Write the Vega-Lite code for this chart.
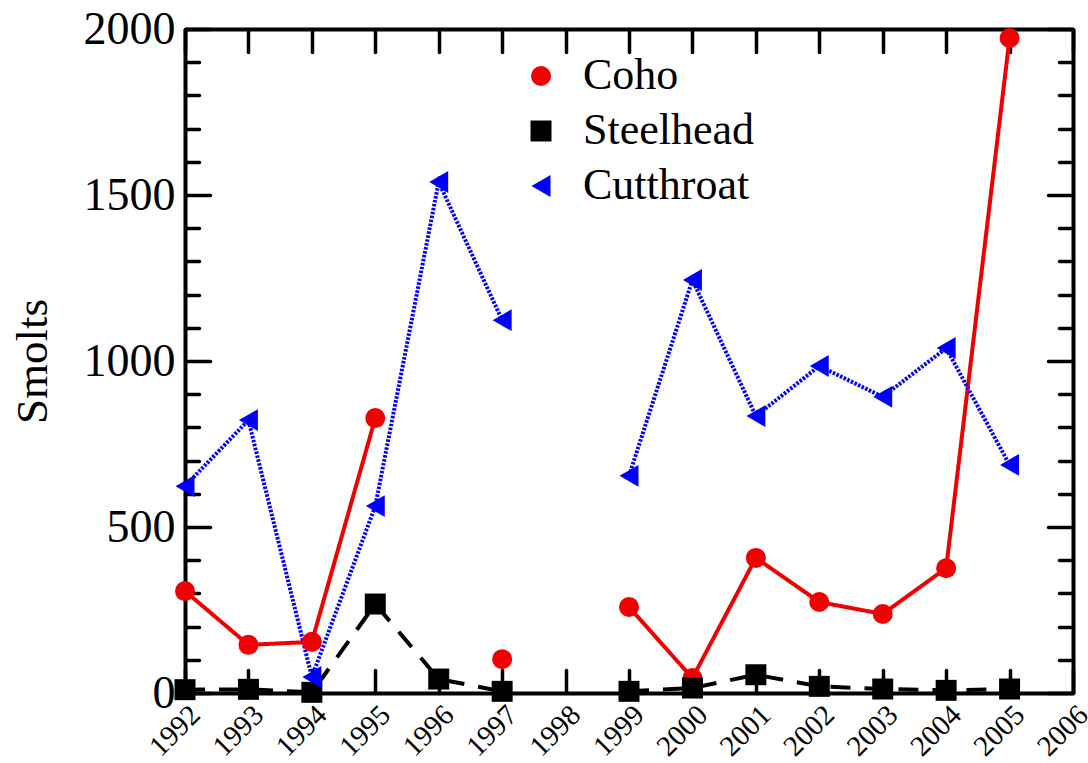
{
  "$schema": "https://vega.github.io/schema/vega-lite/v6.json",
  "width": 888,
  "height": 664,
  "autosize": {"type": "none"},
  "padding": {"left": 185, "top": 29, "right": 15, "bottom": 70},
  "background": "white",
  "config": {
    "font": "Liberation Serif",
    "view": {"stroke": null},
    "axis": {
      "domainColor": "black",
      "domainWidth": 4,
      "tickColor": "black",
      "tickWidth": 3.5,
      "tickCap": "round",
      "labelColor": "black",
      "labelFont": "Liberation Serif",
      "titleFont": "Liberation Serif",
      "titleColor": "black",
      "titleFontWeight": "normal",
      "grid": false
    },
    "legend": {
      "orient": "none",
      "legendX": 334,
      "legendY": 25,
      "labelFontSize": 44,
      "labelFont": "Liberation Serif",
      "labelColor": "black",
      "labelLimit": 0,
      "labelOffset": 20,
      "rowPadding": 11,
      "symbolStrokeWidth": 0
    }
  },
  "data": {
    "values": [
      {"year": 1992, "species": "Coho", "smolts": 307},
      {"year": 1993, "species": "Coho", "smolts": 145},
      {"year": 1994, "species": "Coho", "smolts": 154},
      {"year": 1995, "species": "Coho", "smolts": 828},
      {"year": 1996, "species": "Coho", "smolts": null},
      {"year": 1997, "species": "Coho", "smolts": 102},
      {"year": 1998, "species": "Coho", "smolts": null},
      {"year": 1999, "species": "Coho", "smolts": 259},
      {"year": 2000, "species": "Coho", "smolts": 45},
      {"year": 2001, "species": "Coho", "smolts": 407},
      {"year": 2002, "species": "Coho", "smolts": 274},
      {"year": 2003, "species": "Coho", "smolts": 238},
      {"year": 2004, "species": "Coho", "smolts": 376},
      {"year": 2005, "species": "Coho", "smolts": 1973},
      {"year": 1992, "species": "Steelhead", "smolts": 10},
      {"year": 1993, "species": "Steelhead", "smolts": 11},
      {"year": 1994, "species": "Steelhead", "smolts": 2},
      {"year": 1995, "species": "Steelhead", "smolts": 268},
      {"year": 1996, "species": "Steelhead", "smolts": 42},
      {"year": 1997, "species": "Steelhead", "smolts": 5},
      {"year": 1998, "species": "Steelhead", "smolts": null},
      {"year": 1999, "species": "Steelhead", "smolts": 5},
      {"year": 2000, "species": "Steelhead", "smolts": 15},
      {"year": 2001, "species": "Steelhead", "smolts": 55},
      {"year": 2002, "species": "Steelhead", "smolts": 20},
      {"year": 2003, "species": "Steelhead", "smolts": 12},
      {"year": 2004, "species": "Steelhead", "smolts": 8},
      {"year": 2005, "species": "Steelhead", "smolts": 12},
      {"year": 1992, "species": "Cutthroat", "smolts": 623},
      {"year": 1993, "species": "Cutthroat", "smolts": 822},
      {"year": 1994, "species": "Cutthroat", "smolts": 48},
      {"year": 1995, "species": "Cutthroat", "smolts": 563},
      {"year": 1996, "species": "Cutthroat", "smolts": 1539},
      {"year": 1997, "species": "Cutthroat", "smolts": 1123},
      {"year": 1998, "species": "Cutthroat", "smolts": null},
      {"year": 1999, "species": "Cutthroat", "smolts": 654},
      {"year": 2000, "species": "Cutthroat", "smolts": 1244},
      {"year": 2001, "species": "Cutthroat", "smolts": 834},
      {"year": 2002, "species": "Cutthroat", "smolts": 985},
      {"year": 2003, "species": "Cutthroat", "smolts": 892},
      {"year": 2004, "species": "Cutthroat", "smolts": 1039},
      {"year": 2005, "species": "Cutthroat", "smolts": 687}
    ]
  },
  "resolve": {"axis": {"x": "independent", "y": "independent"}},
  "layer": [
    {
      "mark": {"type": "line", "strokeCap": "butt", "clip": false},
      "encoding": {
        "x": {
          "field": "year", "type": "quantitative",
          "scale": {"domain": [1992, 2006], "nice": false, "zero": false},
          "axis": {
            "orient": "bottom",
            "values": [1992,1993,1994,1995,1996,1997,1998,1999,2000,2001,2002,2003,2004,2005,2006],
            "format": "d",
            "labelAngle": -45,
            "labelFontSize": 29,
            "tickSize": -23,
            "labelPadding": 30,
            "labelOverlap": false,
            "labelBound": false,
            "labelFlush": false,
            "title": null
          }
        },
        "y": {
          "field": "smolts", "type": "quantitative",
          "scale": {"domain": [0, 2000], "nice": false},
          "axis": {
            "orient": "left",
            "values": [0,100,200,300,400,500,600,700,800,900,1000,1100,1200,1300,1400,1500,1600,1700,1800,1900,2000],
            "labelExpr": "datum.value % 500 === 0 ? datum.label : ''",
            "format": "d",
            "labelFontSize": 46,
            "labelPadding": 35,
            "labelOverlap": false,
            "labelFlush": false,
            "tickSize": {"condition": {"test": "datum.value % 500 === 0", "value": -25}, "value": -14},
            "title": "Smolts",
            "titleFontSize": 45,
            "titlePadding": 28
          }
        },
        "stroke": {
          "field": "species", "type": "nominal",
          "scale": {"domain": ["Steelhead", "Coho", "Cutthroat"], "range": ["#000000", "#f00000", "#0000ff"]},
          "legend": null
        },
        "strokeWidth": {
          "field": "species", "type": "nominal",
          "scale": {"domain": ["Steelhead", "Coho", "Cutthroat"], "range": [4, 4, 4.5]},
          "legend": null
        },
        "strokeDash": {
          "field": "species", "type": "nominal",
          "scale": {"domain": ["Steelhead", "Coho", "Cutthroat"], "range": [[20, 14], [1, 0], [2.5, 1.5]]},
          "legend": null
        }
      }
    },
    {
      "mark": {"type": "point", "filled": true, "opacity": 1, "clip": false},
      "encoding": {
        "x": {
          "field": "year", "type": "quantitative",
          "scale": {"domain": [1992, 2006], "nice": false, "zero": false},
          "axis": {
            "orient": "top",
            "values": [1992,1993,1994,1995,1996,1997,1998,1999,2000,2001,2002,2003,2004,2005,2006],
            "labels": false,
            "tickSize": -23,
            "title": null
          }
        },
        "y": {
          "field": "smolts", "type": "quantitative",
          "scale": {"domain": [0, 2000], "nice": false},
          "axis": {
            "orient": "right",
            "values": [0,100,200,300,400,500,600,700,800,900,1000,1100,1200,1300,1400,1500,1600,1700,1800,1900,2000],
            "labels": false,
            "tickSize": {"condition": {"test": "datum.value % 500 === 0", "value": -25}, "value": -14},
            "title": null
          }
        },
        "size": {
          "field": "species", "type": "nominal",
          "scale": {"domain": ["Coho", "Steelhead", "Cutthroat"], "range": [400, 480, 620]},
          "legend": {"title": null}
        },
        "color": {
          "field": "species", "type": "nominal",
          "scale": {"domain": ["Coho", "Steelhead", "Cutthroat"], "range": ["#f00000", "#000000", "#0000ff"]},
          "legend": {"title": null}
        },
        "shape": {
          "field": "species", "type": "nominal",
          "scale": {"domain": ["Coho", "Steelhead", "Cutthroat"], "range": ["circle", "square", "triangle-left"]},
          "legend": {"title": null}
        }
      }
    }
  ]
}
